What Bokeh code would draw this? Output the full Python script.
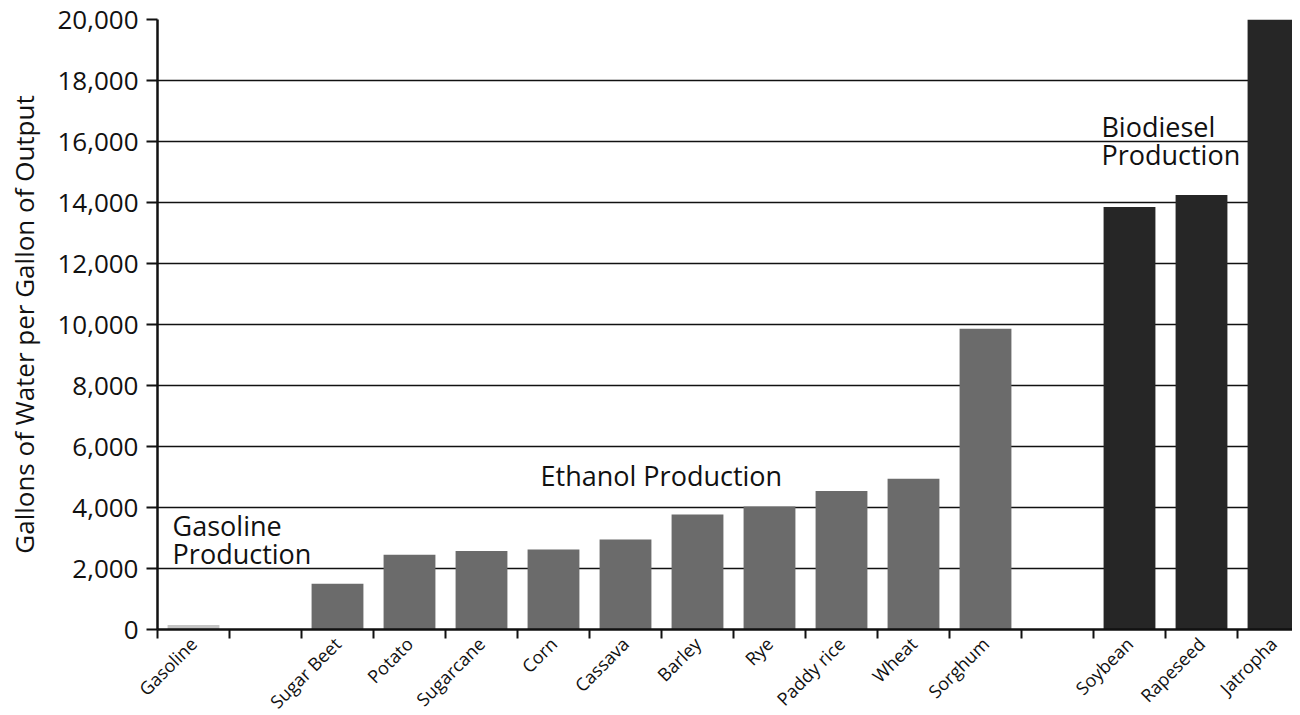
import math
from bokeh.plotting import figure
from bokeh.models import FixedTicker, Range1d, Label, ColumnDataSource, NumeralTickFormatter
from bokeh.embed import file_html
from bokeh.resources import INLINE

# ---- data ----
gasoline_names = ["Gasoline"]
gasoline_values = [150]

ethanol_names = ["Sugar Beet", "Potato", "Sugarcane", "Corn", "Cassava",
                 "Barley", "Rye", "Paddy rice", "Wheat", "Sorghum"]
ethanol_values = [1500, 2450, 2570, 2620, 2950, 3770, 4030, 4540, 4940, 9860]

biodiesel_names = ["Soybean", "Rapeseed", "Jatropha"]
biodiesel_values = [13850, 14250, 20000]

y_ticks = [0, 2000, 4000, 6000, 8000, 10000, 12000, 14000, 16000, 18000, 20000]
grid_ticks = [2000, 4000, 6000, 8000, 10000, 12000, 14000, 16000, 18000]

groups = [(gasoline_names, gasoline_values, "#c4c4c4"),
          (ethanol_names, ethanol_values, "#6b6b6b"),
          (biodiesel_names, biodiesel_values, "#262626")]

FONT = "Open Sans"
INK = "#111111"

p = figure(frame_width=1135, frame_height=610,
           min_border_left=157, min_border_top=19, min_border_right=0, min_border_bottom=70,
           output_backend="svg", toolbar_location=None,
           x_range=Range1d(0, 1135 / 72), y_range=Range1d(0, 20000))

slot = 0
centers = []
labels = {}
for names, vals, color in groups:
    xs = [slot + i + 0.5 for i in range(len(names))]
    src = ColumnDataSource(dict(x=xs, top=vals))
    p.vbar(x="x", top="top", bottom=0, width=0.72, source=src,
           fill_color=color, line_color=None)
    for x, n in zip(xs, names):
        centers.append(x)
        labels[x] = n
    slot += len(names) + 1
n_slots = slot - 1

# x axis
xa = p.xaxis[0]
xa.ticker = FixedTicker(ticks=centers, minor_ticks=list(range(0, n_slots + 1)))
xa.major_label_overrides = labels
xa.major_label_orientation = math.pi / 4
xa.major_tick_line_color = None
xa.minor_tick_line_color = INK
xa.minor_tick_line_width = 2
xa.minor_tick_out = 9
xa.minor_tick_in = 0
xa.axis_line_color = INK
xa.axis_line_width = 2.5
xa.major_label_text_font = FONT
xa.major_label_text_font_size = "18px"
xa.major_label_text_color = INK
xa.major_label_standoff = 2

# y axis
ya = p.yaxis[0]
ya.ticker = FixedTicker(ticks=y_ticks)
ya.formatter = NumeralTickFormatter(format="0,0")
ya.axis_label = "Gallons of Water per Gallon of Output"
ya.axis_label_text_font = FONT
ya.axis_label_text_font_size = "26px"
ya.axis_label_text_font_style = "normal"
ya.axis_label_text_color = INK
ya.axis_label_standoff = 12
ya.major_label_text_font = FONT
ya.major_label_text_font_size = "26px"
ya.major_label_text_color = INK
ya.major_label_standoff = 8
ya.major_tick_out = 11
ya.major_tick_in = 0
ya.major_tick_line_width = 2
ya.major_tick_line_color = INK
ya.minor_tick_line_color = None
ya.axis_line_color = INK
ya.axis_line_width = 2.5

# grid
p.xgrid.grid_line_color = None
p.ygrid.ticker = FixedTicker(ticks=grid_ticks)
p.ygrid.grid_line_color = INK
p.ygrid.grid_line_width = 1.5
p.ygrid.level = "underlay"
p.outline_line_color = None
p.background_fill_color = "white"
p.border_fill_color = "white"

def add_label(x, y, text):
    p.add_layout(Label(x=x, y=y, text=text, text_font=FONT, text_font_size="27px",
                       text_color=INK, text_baseline="alphabetic", text_align="left"))

add_label(0.21, 3400, "Gasoline")
add_label(0.21, 2480, "Production")
add_label(5.32, 5040, "Ethanol Production")
add_label(13.11, 16480, "Biodiesel")
add_label(13.11, 15570, "Production")

open("out.html", "w").write(file_html(p, INLINE))
